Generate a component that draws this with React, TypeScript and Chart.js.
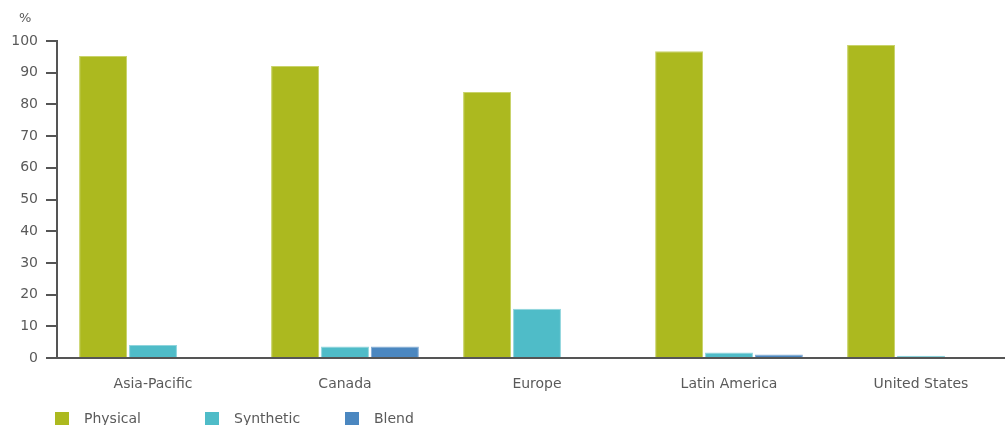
import React, { useEffect, useRef } from "react";
import { Chart, registerables } from "chart.js";

Chart.register(...registerables);

const categories = ["Asia-Pacific", "Canada", "Europe", "Latin America", "United States"];
const physical = [95.3, 92.1, 83.9, 96.8, 98.7];
const synthetic = [4.1, 3.6, 15.5, 1.7, 0.7];
const blend = [0.3, 3.6, 0, 1.1, 0.3];
const yTicks = [0, 10, 20, 30, 40, 50, 60, 70, 80, 90, 100];

const seriesNames = ["Physical", "Synthetic", "Blend"];
const colors = ["#acb91f", "#4fbcc8", "#4b87c0"];
const borders = ["#c9d36a", "#8fd5dd", "#86aed6"];

const FONT = "'DejaVu Sans', sans-serif";
const TEXT = "#5a5a5a";
const AXIS = "#555555";

export default function App() {
  const ref = useRef<HTMLCanvasElement | null>(null);

  useEffect(() => {
    document.body.style.margin = "0";
    document.body.style.overflow = "hidden";
    const ctx = ref.current!.getContext("2d")!;
    const values = [physical, synthetic, blend];
    const chart = new Chart(ctx, {
      type: "bar",
      data: {
        labels: categories,
        datasets: seriesNames.map((name, i) => ({
          label: name,
          data: values[i],
          backgroundColor: colors[i],
          borderColor: borders[i],
          borderWidth: 1,
          barPercentage: 0.96,
          categoryPercentage: 0.78,
        })),
      },
      options: {
        responsive: false,
        animation: false,
        layout: { padding: { top: 41, right: 0, bottom: 0, left: 0 } },
        plugins: { legend: { display: false }, tooltip: { enabled: false } },
        scales: {
          x: {
            grid: { display: false },
            border: { color: AXIS, width: 2 },
            ticks: {
              color: TEXT,
              font: { family: FONT, size: 14 },
              padding: 10,
              maxRotation: 0,
            },
            afterFit: (s: any) => {
              s.height = 67;
            },
          },
          y: {
            min: 0,
            max: 100,
            afterBuildTicks: (s: any) => {
              s.ticks = yTicks.map((v) => ({ value: v }));
            },
            grid: {
              drawOnChartArea: false,
              drawTicks: true,
              tickLength: 11,
              color: AXIS,
              lineWidth: 2,
            },
            border: { color: AXIS, width: 2 },
            ticks: {
              color: TEXT,
              font: { family: FONT, size: 14 },
              padding: 8,
            },
            afterFit: (s: any) => {
              s.width = 57;
            },
          },
        },
      },
    });
    return () => chart.destroy();
  }, []);

  return (
    <div style={{ position: "absolute", left: 0, top: 0, width: 1005, height: 425, overflow: "hidden", background: "#fff" }}>
      <canvas ref={ref} width={1017} height={425} style={{ position: "absolute", left: 0, top: 0 }} />
      <div
        style={{
          position: "absolute",
          left: 19,
          top: 10,
          fontFamily: FONT,
          fontSize: 13,
          color: TEXT,
        }}
      >
        %
      </div>
      {seriesNames.map((name, i) => (
        <div
          key={name}
          style={{
            position: "absolute",
            left: [55, 205, 345][i],
            top: 410,
            display: "flex",
            alignItems: "center",
            fontFamily: FONT,
            fontSize: 14,
            color: TEXT,
          }}
        >
          <span style={{ display: "inline-block", width: 14, height: 13, background: colors[i], marginRight: 15 }} />
          <span>{name}</span>
        </div>
      ))}
    </div>
  );
}
